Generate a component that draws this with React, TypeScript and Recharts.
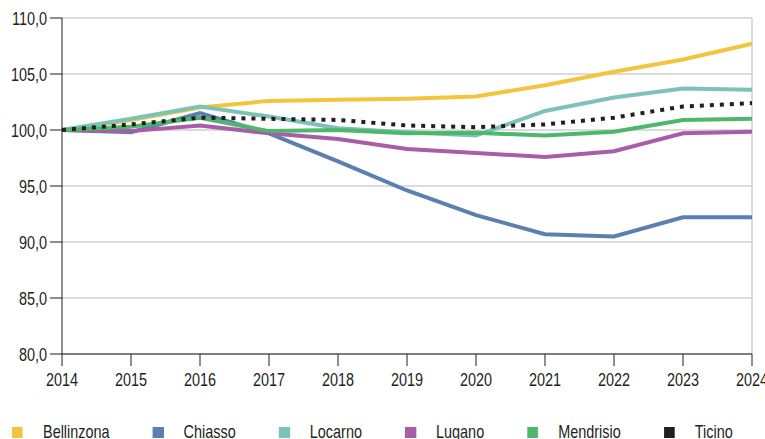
import React from 'react';
import { LineChart, Line, XAxis, YAxis, CartesianGrid, ReferenceLine } from 'recharts';

const years = ['2014', '2015', '2016', '2017', '2018', '2019', '2020', '2021', '2022', '2023', '2024'];

const bellinzona = [100, 100.9, 102.0, 102.6, 102.7, 102.8, 103.0, 104.0, 105.2, 106.3, 107.7];
const chiasso = [100, 99.8, 101.5, 99.7, 97.2, 94.6, 92.4, 90.7, 90.5, 92.2, 92.2];
const locarno = [100, 101.0, 102.1, 101.2, 100.15, 99.8, 99.5, 101.7, 102.9, 103.7, 103.6];
const lugano = [100, 99.9, 100.4, 99.7, 99.2, 98.3, 97.95, 97.6, 98.1, 99.7, 99.85];
const mendrisio = [100, 100.3, 101.1, 99.9, 100.0, 99.7, 99.75, 99.5, 99.85, 100.9, 101.0];
const ticino = [100, 100.5, 101.1, 101.0, 100.9, 100.4, 100.25, 100.5, 101.1, 102.1, 102.4];

const yTicks = [80, 85, 90, 95, 100, 105, 110];

const series = [
  { key: 'Bellinzona', values: bellinzona, color: '#F2C53D' },
  { key: 'Chiasso', values: chiasso, color: '#5B7FB0' },
  { key: 'Locarno', values: locarno, color: '#7CC2B8' },
  { key: 'Lugano', values: lugano, color: '#A95DA8' },
  { key: 'Mendrisio', values: mendrisio, color: '#4DB86B' },
  { key: 'Ticino', values: ticino, color: '#231F20' },
];

const data = years.map((year, i) => {
  const row: Record<string, string | number> = { year };
  series.forEach((s) => {
    row[s.key] = s.values[i];
  });
  return row;
});

// no condensed face installed, so squeeze Liberation Sans horizontally
const FONT = "'Liberation Sans', Arial, sans-serif";
const SQUEEZE = 0.76;
const fmt = (v: number) => v.toFixed(1).replace('.', ',');

const XTick = ({ x, y, payload }: any) => (
  <text
    transform={`translate(${x},${y}) scale(${SQUEEZE},1)`}
    textAnchor="middle"
    dy="0.71em"
    fill="#231F20"
    fontSize={19}
    fontFamily={FONT}
  >
    {payload.value}
  </text>
);

const YTick = ({ x, y, payload }: any) => (
  <text
    transform={`translate(${x},${y}) scale(${SQUEEZE},1)`}
    textAnchor="end"
    dy="0.355em"
    fill="#231F20"
    fontSize={19}
    fontFamily={FONT}
  >
    {fmt(payload.value)}
  </text>
);

export default function App() {
  return (
    <div style={{ position: 'absolute', left: 0, top: 0, width: 765, height: 439, background: '#fff', fontFamily: FONT, overflow: 'hidden' }}>
      <LineChart width={765} height={400} data={data} margin={{ top: 18, right: 13, bottom: 0, left: 0 }}>
        <CartesianGrid vertical={false} stroke="#d0d0d0" strokeWidth={1.5} />
        <ReferenceLine x="2024" stroke="#d0d0d0" strokeWidth={1.5} />
        <XAxis
          dataKey="year"
          height={46}
          interval={0}
          stroke="#231F20"
          tickSize={12}
          tickMargin={7}
          tick={<XTick />}
        />
        <YAxis
          width={62}
          domain={[80, 110]}
          ticks={yTicks}
          stroke="#231F20"
          tickSize={12}
          tickMargin={3}
          tick={<YTick />}
        />
        {series.map((s) => (
          <Line
            key={s.key}
            dataKey={s.key}
            type="linear"
            stroke={s.color}
            strokeWidth={4}
            strokeDasharray={s.key === 'Ticino' ? '4 6' : undefined}
            dot={false}
            activeDot={false}
            isAnimationActive={false}
          />
        ))}
      </LineChart>
      <div
        style={{
          position: 'absolute',
          left: 12,
          top: 421,
          display: 'flex',
          alignItems: 'center',
          whiteSpace: 'nowrap',
          transform: `scaleX(${SQUEEZE})`,
          transformOrigin: 'left center',
        }}
      >
        {series.map((s) => (
          <div key={s.key} style={{ display: 'flex', alignItems: 'center', marginRight: 43 / SQUEEZE }}>
            <span style={{ width: 11 / SQUEEZE, height: 11, background: s.color, display: 'inline-block', marginRight: 20 / SQUEEZE }} />
            <span style={{ fontSize: 19, color: '#231F20', lineHeight: '22px' }}>{s.key}</span>
          </div>
        ))}
      </div>
    </div>
  );
}
